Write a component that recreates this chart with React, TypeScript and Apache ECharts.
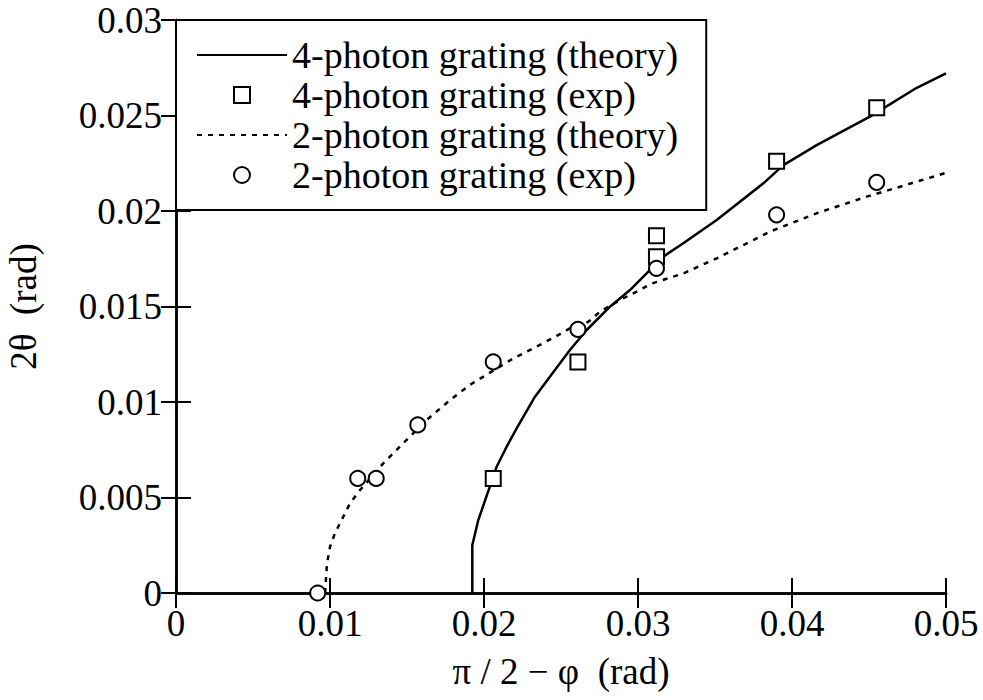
import React, { useEffect, useRef } from 'react';
import * as echarts from 'echarts';

// 4-photon grating theory curve
const x4Theory = [0.01924, 0.01924, 0.01963, 0.02039, 0.02082, 0.02147, 0.02212, 0.02331, 0.02429, 0.02558, 0.02667, 0.02818, 0.02948, 0.03056, 0.03164, 0.03294, 0.03511, 0.03814, 0.03944, 0.0416, 0.04506, 0.0481, 0.05];
const y4Theory = [0, 0.0025, 0.00382, 0.0056, 0.00661, 0.00766, 0.00862, 0.01028, 0.01133, 0.01272, 0.01377, 0.01499, 0.01586, 0.01673, 0.01761, 0.01831, 0.01953, 0.02145, 0.0224, 0.02345, 0.02494, 0.02645, 0.0272];

// 2-photon grating theory curve
const x2Theory = [0.00968, 0.0098, 0.01, 0.01032, 0.01065, 0.0113, 0.01195, 0.01346, 0.01476, 0.01628, 0.01779, 0.01909, 0.0219, 0.02342, 0.02472, 0.02558, 0.02678, 0.02753, 0.02883, 0.02991, 0.03088, 0.03294, 0.03511, 0.03857, 0.0416, 0.04485, 0.04701, 0.05];
const y2Theory = [0, 0.0015, 0.00242, 0.00312, 0.00365, 0.0047, 0.00539, 0.00679, 0.00784, 0.00906, 0.0101, 0.0109, 0.01228, 0.0129, 0.01346, 0.01386, 0.0142, 0.01473, 0.01534, 0.01578, 0.0162, 0.01673, 0.01752, 0.01892, 0.01988, 0.02075, 0.02127, 0.022];

// experimental points
const x4Exp = [0.0206, 0.0261, 0.0312, 0.0312, 0.039, 0.0455];
const y4Exp = [0.006, 0.0121, 0.0187, 0.0176, 0.0226, 0.0254];
const x2Exp = [0.0092, 0.0118, 0.013, 0.0157, 0.0206, 0.0261, 0.0312, 0.039, 0.0455];
const y2Exp = [0, 0.006, 0.006, 0.0088, 0.0121, 0.0138, 0.017, 0.0198, 0.0215];

const seriesNames = [
  '4-photon grating (theory)',
  '4-photon grating (exp)',
  '2-photon grating (theory)',
  '2-photon grating (exp)',
];

const xTitle = 'π / 2 − φ  (rad)';
const yTitle = '2θ  (rad)';

const FONT = 'Liberation Serif';
const FS = 37;
const LEGEND_FS = 38;

// legend icons: full-width invisible extent so the icon is not stretched
const squareIcon = 'path://M0,8M90,8M37,0H53V16H37Z';
const circleIcon = 'path://M0,8M90,8M37,8A8,8,0,1,1,53,8A8,8,0,1,1,37,8Z';

const zip = (xs: number[], ys: number[]) => xs.map((x, i) => [x, ys[i]]);

export default function App() {
  const ref = useRef<HTMLDivElement>(null);
  useEffect(() => {
    document.body.style.margin = '0';
    const chart = echarts.init(ref.current!, null, { renderer: 'svg' });
    const axisLine = { show: true, lineStyle: { color: '#000', width: 2.5 } };
    const tick = { show: true, inside: true, length: 15, lineStyle: { color: '#000', width: 2 } };
    const label = { color: '#000', fontSize: FS, fontFamily: FONT };
    const symStyle = { color: '#fff', borderColor: '#000', borderWidth: 2, opacity: 1 };
    chart.setOption({
      animation: false,
      backgroundColor: '#fff',
      textStyle: { fontFamily: FONT },
      grid: { left: 176, top: 20, width: 770, height: 573, containLabel: false, outerBoundsMode: 'none' },
      legend: {
        left: 176,
        top: 20,
        orient: 'vertical',
        data: [
          { name: seriesNames[0], itemStyle: { opacity: 0, borderWidth: 0 } },
          { name: seriesNames[1], icon: squareIcon, itemStyle: symStyle },
          { name: seriesNames[2], itemStyle: { opacity: 0, borderWidth: 0 } },
          { name: seriesNames[3], icon: circleIcon, itemStyle: symStyle },
        ],
        selectedMode: false,
        itemWidth: 90,
        itemHeight: 16,
        itemGap: 2,
        padding: [16, 28, 16, 20],
        backgroundColor: '#fff',
        borderColor: '#000',
        borderWidth: 2,
        textStyle: { color: '#000', fontSize: LEGEND_FS, fontFamily: FONT, height: LEGEND_FS, lineHeight: LEGEND_FS },
        z: 10,
      },
      xAxis: [
        {
          type: 'value', min: 0, max: 0.05, interval: 0.01, position: 'bottom',
          axisLine, axisTick: tick, splitLine: { show: false },
          axisLabel: { ...label, margin: 12 },
          name: xTitle, nameLocation: 'middle', nameGap: 60,
          nameTextStyle: { color: '#000', fontSize: FS, fontFamily: FONT },
        },
        {
          type: 'value', min: 0, max: 0.05, interval: 0.01, position: 'top',
          axisLine, axisTick: tick, splitLine: { show: false }, axisLabel: { show: false },
        },
      ],
      yAxis: [
        {
          type: 'value', min: 0, max: 0.03, interval: 0.005, position: 'left',
          axisLine, axisTick: tick, splitLine: { show: false },
          axisLabel: { ...label, margin: 14 },
          name: yTitle, nameLocation: 'middle', nameGap: 134,
          nameTextStyle: { color: '#000', fontSize: FS, fontFamily: FONT },
        },
        {
          type: 'value', min: 0, max: 0.03, interval: 0.005, position: 'right',
          axisLine, axisTick: tick, splitLine: { show: false }, axisLabel: { show: false },
        },
      ],
      series: [
        {
          name: seriesNames[0], type: 'line', data: zip(x4Theory, y4Theory), symbol: 'none',
          lineStyle: { color: '#000', width: 2.5 }, itemStyle: { color: '#000' }, z: 2,
          emphasis: { disabled: true },
        },
        {
          name: seriesNames[1], type: 'scatter', data: zip(x4Exp, y4Exp), symbol: 'rect', symbolSize: 15,
          itemStyle: symStyle, z: 3,
          emphasis: { disabled: true },
        },
        {
          name: seriesNames[2], type: 'line', data: zip(x2Theory, y2Theory), symbol: 'none',
          lineStyle: { color: '#000', width: 2.5, type: [5, 6] }, itemStyle: { color: '#000' }, z: 2,
          emphasis: { disabled: true },
        },
        {
          name: seriesNames[3], type: 'scatter', data: zip(x2Exp, y2Exp), symbol: 'circle', symbolSize: 15,
          itemStyle: symStyle, z: 3,
          emphasis: { disabled: true },
        },
      ],
    });
    return () => chart.dispose();
  }, []);
  return <div ref={ref} style={{ position: 'absolute', left: 0, top: 0, width: 983, height: 700 }} />;
}
